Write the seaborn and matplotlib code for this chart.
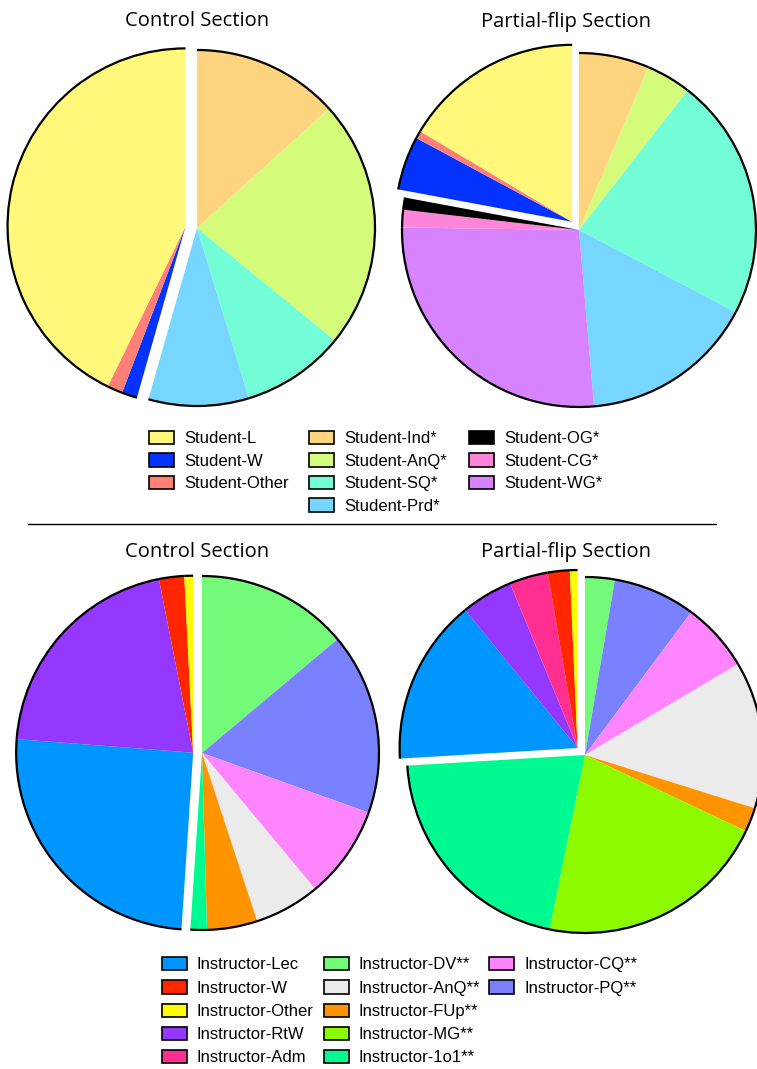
import matplotlib
matplotlib.use("Agg")
import matplotlib.pyplot as plt
import seaborn as sns
import numpy as np
from matplotlib.patches import Arc, Patch
from matplotlib.lines import Line2D

sns.set_theme(style="white")
plt.rcParams['font.family'] = ['Liberation Sans', 'DejaVu Sans']
plt.rcParams['text.color'] = 'black'

# ---------------- data ----------------
student_categories = ["Student-Ind*", "Student-AnQ*", "Student-SQ*", "Student-Prd*",
                      "Student-WG*", "Student-CG*", "Student-OG*",
                      "Student-W", "Student-Other", "Student-L"]
student_control = [13.3, 22.6, 9.4, 9.1, 0.0, 0.0, 0.0, 1.4, 1.4, 42.8]
student_flip = [6.4, 4.1, 22.1, 15.9, 26.5, 1.6, 1.1, 4.9, 0.7, 16.4]
student_colors = ["#FFD47F", "#D4FB79", "#73FDD6", "#76D6FF",
                  "#D783FF", "#FF85D8", "#000000",
                  "#0433FF", "#FF8077", "#FFF87A"]
student_traditional = ["Student-W", "Student-Other", "Student-L"]
student_legend_cols = [["Student-L", "Student-W", "Student-Other"],
                       ["Student-Ind*", "Student-AnQ*", "Student-SQ*", "Student-Prd*"],
                       ["Student-OG*", "Student-CG*", "Student-WG*"]]

instr_categories = ["Instructor-DV**", "Instructor-PQ**", "Instructor-CQ**", "Instructor-AnQ**",
                    "Instructor-FUp**", "Instructor-MG**", "Instructor-1o1**",
                    "Instructor-Lec", "Instructor-RtW", "Instructor-Adm",
                    "Instructor-W", "Instructor-Other"]
instr_control = [13.9, 16.6, 8.5, 6.0, 4.6, 0.0, 1.5, 25.2, 20.7, 0.0, 2.3, 0.8]
instr_flip = [2.7, 7.5, 6.3, 13.4, 2.2, 21.2, 20.9, 15.1, 4.7, 3.5, 2.0, 0.7]
instr_colors = ["#73FA79", "#7A81FF", "#FF85FF", "#EBEBEB",
                "#FF9300", "#8EFA00", "#00FA92",
                "#0096FF", "#9437FF", "#FF2F92",
                "#FF2600", "#FFFB00"]
instr_traditional = ["Instructor-Lec", "Instructor-RtW", "Instructor-Adm",
                     "Instructor-W", "Instructor-Other"]
instr_legend_cols = [["Instructor-Lec", "Instructor-W", "Instructor-Other", "Instructor-RtW", "Instructor-Adm"],
                     ["Instructor-DV**", "Instructor-AnQ**", "Instructor-FUp**", "Instructor-MG**", "Instructor-1o1**"],
                     ["Instructor-CQ**", "Instructor-PQ**"]]

section_titles = ["Control Section", "Partial-flip Section"]

# ---------------- figure ----------------
W, H = 757, 1069
fig = plt.figure(figsize=(W / 100, H / 100), dpi=100)
fig.patch.set_facecolor("white")


def px_axes(cx, cy, R, lim=1.1):
    h = lim * R
    ax = fig.add_axes([(cx - h) / W, 1 - (cy + h) / H, 2 * h / W, 2 * h / H])
    ax.set_facecolor("none")
    return ax


def draw_pie(ax, values, categories, colors, group, shift):
    vals = np.array(values, dtype=float)
    wedges, _ = ax.pie(vals, colors=colors, startangle=90, counterclock=False,
                       radius=1.0, wedgeprops=dict(linewidth=0, edgecolor="none",
                                                   antialiased=True))
    frac = vals / vals.sum()
    cum = np.concatenate([[0], np.cumsum(frac)])
    idx = [categories.index(g) for g in group]
    a = min(cum[i] for i in idx)
    b = max(cum[i + 1] for i in idx)
    mid = np.deg2rad(90 - 360 * (a + b) / 2)
    dx, dy = shift * np.cos(mid), shift * np.sin(mid)
    for i in idx:
        wedges[i].set_center((dx, dy))
    for w, v in zip(wedges, vals):
        if v <= 0:
            continue
        ax.add_patch(Arc(w.center, 2 * w.r, 2 * w.r, theta1=w.theta1, theta2=w.theta2,
                         color="black", lw=1.6))
    ax.set_xlim(-1.1, 1.1)
    ax.set_ylim(-1.1, 1.1)
    ax.set_aspect("equal")
    ax.axis("off")


pies = [
    ((197, 228, 178), student_control, student_categories, student_colors, student_traditional, 0.065),
    ((579, 230, 177), student_flip, student_categories, student_colors, student_traditional, 0.06),
    ((202, 753, 177), instr_control, instr_categories, instr_colors, instr_traditional, 0.05),
    ((585, 755, 178), instr_flip, instr_categories, instr_colors, instr_traditional, 0.057),
]
for (cx, cy, R), vals, cats, cols, grp, sh in pies:
    ax = px_axes(cx, cy, R)
    draw_pie(ax, vals, cats, cols, grp, sh)

# titles
title_font = ["Open Sans", "DejaVu Sans"]
for (x, y), t in zip([(197, 21), (566, 22), (197, 552), (566, 552)],
                     section_titles * 2):
    fig.text(x / W, 1 - y / H, t, ha="center", va="center", fontsize=14.5,
             family=title_font, color="black")

# separator
fig.add_artist(Line2D([28 / W, 716 / W], [1 - 524 / H, 1 - 524 / H], color="black", lw=1))


def add_legend_col(labels, categories, colors, x, y, spacing):
    handles = [Patch(facecolor=colors[categories.index(l)], edgecolor="black", linewidth=1.2)
               for l in labels]
    fig.legend(handles, labels, loc="upper left", bbox_to_anchor=(x / W, 1 - y / H),
               frameon=False, fontsize=12, handlelength=1.5, handleheight=0.85,
               handletextpad=0.6, labelspacing=spacing, borderpad=0, borderaxespad=0,
               labelcolor="black")


for col, x in zip(student_legend_cols, [149, 309, 469]):
    add_legend_col(col, student_categories, student_colors, x, 431, 0.42)
for col, x in zip(instr_legend_cols, [162, 324, 489]):
    add_legend_col(col, instr_categories, instr_colors, x, 957, 0.47)

fig.savefig("out.png", dpi=100, facecolor="white")
